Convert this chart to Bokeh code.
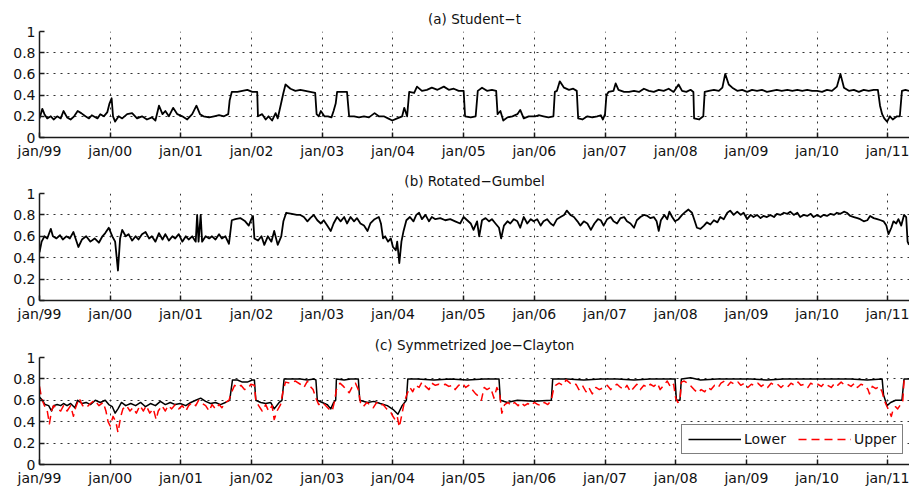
from bokeh.plotting import figure
from bokeh.layouts import column
from bokeh.models import Range1d, FixedTicker, Legend, LegendItem
from bokeh.embed import file_html
from bokeh.resources import INLINE

# Axis ticks and labels
years = list(range(1999, 2012))
year_labels = ["jan/%02d" % (y % 100) for y in years]
y_ticks = [0, 0.2, 0.4, 0.6, 0.8, 1]
y_labels = ["0", "0.2", "0.4", "0.6", "0.8", "1"]

# Time-varying dependence, (decimal year, value)
student_t = [
    (1999.00, 0.18), (1999.04, 0.27), (1999.07, 0.22), (1999.11, 0.18), (1999.16, 0.20),
    (1999.20, 0.17), (1999.25, 0.20), (1999.30, 0.18), (1999.34, 0.25), (1999.39, 0.19),
    (1999.44, 0.17), (1999.49, 0.20), (1999.54, 0.25), (1999.59, 0.23), (1999.65, 0.20),
    (1999.70, 0.18), (1999.74, 0.21), (1999.82, 0.18), (1999.86, 0.22), (1999.91, 0.20),
    (1999.96, 0.24), (1999.99, 0.32), (2000.02, 0.37), (2000.04, 0.20), (2000.07, 0.15),
    (2000.12, 0.20), (2000.17, 0.18), (2000.24, 0.22), (2000.31, 0.23), (2000.38, 0.18),
    (2000.45, 0.20), (2000.52, 0.17), (2000.59, 0.19), (2000.64, 0.16), (2000.69, 0.30),
    (2000.74, 0.22), (2000.78, 0.25), (2000.83, 0.20), (2000.89, 0.28), (2000.95, 0.22),
    (2001.02, 0.20), (2001.09, 0.17), (2001.16, 0.22), (2001.22, 0.30), (2001.27, 0.22),
    (2001.32, 0.20), (2001.40, 0.19), (2001.47, 0.20), (2001.54, 0.21), (2001.61, 0.20),
    (2001.67, 0.22), (2001.69, 0.35), (2001.72, 0.43), (2001.80, 0.43), (2001.87, 0.44),
    (2001.94, 0.45), (2002.01, 0.43), (2002.08, 0.43), (2002.09, 0.20), (2002.15, 0.22),
    (2002.20, 0.17), (2002.24, 0.20), (2002.29, 0.16), (2002.34, 0.23), (2002.37, 0.18),
    (2002.41, 0.30), (2002.45, 0.42), (2002.48, 0.50), (2002.55, 0.46), (2002.62, 0.44),
    (2002.69, 0.45), (2002.76, 0.44), (2002.83, 0.43), (2002.90, 0.42), (2002.92, 0.22),
    (2002.95, 0.20), (2002.98, 0.25), (2003.03, 0.20), (2003.08, 0.20), (2003.13, 0.19),
    (2003.16, 0.25), (2003.19, 0.32), (2003.21, 0.43), (2003.28, 0.43), (2003.35, 0.43),
    (2003.38, 0.20), (2003.45, 0.20), (2003.52, 0.19), (2003.59, 0.20), (2003.66, 0.19),
    (2003.74, 0.23), (2003.80, 0.20), (2003.87, 0.20), (2003.93, 0.18), (2003.99, 0.16),
    (2004.06, 0.18), (2004.13, 0.20), (2004.16, 0.28), (2004.20, 0.20), (2004.23, 0.43),
    (2004.30, 0.42), (2004.34, 0.48), (2004.41, 0.44), (2004.48, 0.45), (2004.55, 0.47),
    (2004.63, 0.45), (2004.72, 0.48), (2004.79, 0.45), (2004.86, 0.46), (2004.93, 0.44),
    (2005.00, 0.44), (2005.02, 0.20), (2005.10, 0.19), (2005.17, 0.20), (2005.20, 0.44),
    (2005.26, 0.47), (2005.33, 0.44), (2005.40, 0.45), (2005.46, 0.44), (2005.48, 0.22),
    (2005.52, 0.25), (2005.56, 0.16), (2005.62, 0.19), (2005.69, 0.20), (2005.76, 0.22),
    (2005.80, 0.26), (2005.85, 0.18), (2005.92, 0.20), (2006.01, 0.20), (2006.06, 0.21),
    (2006.13, 0.20), (2006.20, 0.19), (2006.27, 0.20), (2006.29, 0.43), (2006.32, 0.44),
    (2006.36, 0.53), (2006.42, 0.47), (2006.49, 0.45), (2006.55, 0.46), (2006.60, 0.44),
    (2006.62, 0.18), (2006.68, 0.17), (2006.75, 0.20), (2006.82, 0.19), (2006.89, 0.20),
    (2006.94, 0.21), (2006.97, 0.17), (2007.00, 0.22), (2007.02, 0.40), (2007.05, 0.43),
    (2007.12, 0.44), (2007.15, 0.51), (2007.19, 0.45), (2007.27, 0.43), (2007.34, 0.43),
    (2007.41, 0.44), (2007.48, 0.43), (2007.55, 0.46), (2007.62, 0.44), (2007.69, 0.43),
    (2007.76, 0.45), (2007.83, 0.44), (2007.90, 0.46), (2007.97, 0.43), (2008.04, 0.50),
    (2008.09, 0.44), (2008.15, 0.43), (2008.21, 0.45), (2008.25, 0.43), (2008.26, 0.18),
    (2008.33, 0.17), (2008.39, 0.20), (2008.41, 0.43), (2008.47, 0.44), (2008.54, 0.45),
    (2008.61, 0.44), (2008.66, 0.47), (2008.70, 0.60), (2008.75, 0.50), (2008.80, 0.47),
    (2008.87, 0.44), (2008.94, 0.45), (2009.01, 0.43), (2009.08, 0.45), (2009.15, 0.44),
    (2009.22, 0.45), (2009.29, 0.43), (2009.36, 0.44), (2009.43, 0.45), (2009.50, 0.44),
    (2009.58, 0.45), (2009.65, 0.44), (2009.72, 0.45), (2009.79, 0.44), (2009.86, 0.45),
    (2009.93, 0.44), (2010.00, 0.44), (2010.07, 0.43), (2010.14, 0.45), (2010.21, 0.44),
    (2010.28, 0.48), (2010.33, 0.60), (2010.38, 0.47), (2010.45, 0.44), (2010.52, 0.45),
    (2010.59, 0.43), (2010.66, 0.45), (2010.73, 0.44), (2010.80, 0.45), (2010.86, 0.45),
    (2010.89, 0.30), (2010.92, 0.22), (2010.95, 0.18), (2010.99, 0.15), (2011.03, 0.20),
    (2011.07, 0.17), (2011.13, 0.20), (2011.17, 0.20), (2011.20, 0.44), (2011.25, 0.45),
    (2011.30, 0.44),
]

rotated_gumbel = [
    (1999.00, 0.45), (1999.03, 0.55), (1999.07, 0.60), (1999.11, 0.58), (1999.16, 0.67),
    (1999.19, 0.60), (1999.24, 0.58), (1999.29, 0.61), (1999.33, 0.57), (1999.38, 0.60),
    (1999.43, 0.58), (1999.48, 0.64), (1999.51, 0.58), (1999.55, 0.50), (1999.60, 0.57),
    (1999.66, 0.60), (1999.72, 0.55), (1999.78, 0.58), (1999.84, 0.54), (1999.89, 0.60),
    (1999.93, 0.63), (1999.98, 0.68), (2000.03, 0.60), (2000.07, 0.55), (2000.11, 0.28),
    (2000.14, 0.58), (2000.17, 0.66), (2000.22, 0.60), (2000.26, 0.62), (2000.31, 0.56),
    (2000.36, 0.60), (2000.40, 0.57), (2000.45, 0.62), (2000.50, 0.64), (2000.55, 0.58),
    (2000.59, 0.60), (2000.64, 0.55), (2000.69, 0.63), (2000.74, 0.57), (2000.78, 0.62),
    (2000.83, 0.56), (2000.88, 0.60), (2000.92, 0.58), (2000.97, 0.62), (2001.02, 0.55),
    (2001.07, 0.60), (2001.11, 0.57), (2001.16, 0.60), (2001.21, 0.55), (2001.23, 0.80),
    (2001.25, 0.55), (2001.28, 0.80), (2001.30, 0.55), (2001.35, 0.60), (2001.40, 0.58),
    (2001.44, 0.60), (2001.49, 0.57), (2001.54, 0.62), (2001.58, 0.58), (2001.63, 0.60),
    (2001.68, 0.53), (2001.72, 0.75), (2001.77, 0.76), (2001.84, 0.77), (2001.91, 0.74),
    (2001.96, 0.70), (2001.99, 0.75), (2002.02, 0.79), (2002.04, 0.58), (2002.09, 0.56),
    (2002.14, 0.60), (2002.18, 0.52), (2002.23, 0.60), (2002.28, 0.55), (2002.32, 0.65),
    (2002.37, 0.52), (2002.42, 0.60), (2002.45, 0.74), (2002.49, 0.82), (2002.57, 0.81),
    (2002.64, 0.80), (2002.69, 0.80), (2002.74, 0.78), (2002.79, 0.74), (2002.83, 0.77),
    (2002.88, 0.80), (2002.93, 0.75), (2002.98, 0.72), (2003.02, 0.75), (2003.07, 0.70),
    (2003.12, 0.65), (2003.16, 0.72), (2003.21, 0.78), (2003.26, 0.74), (2003.31, 0.78),
    (2003.35, 0.72), (2003.40, 0.78), (2003.45, 0.74), (2003.49, 0.77), (2003.54, 0.72),
    (2003.59, 0.70), (2003.64, 0.65), (2003.68, 0.72), (2003.74, 0.76), (2003.80, 0.78),
    (2003.83, 0.72), (2003.86, 0.58), (2003.89, 0.60), (2003.93, 0.55), (2003.97, 0.58),
    (2004.00, 0.50), (2004.04, 0.47), (2004.06, 0.55), (2004.09, 0.35), (2004.12, 0.55),
    (2004.15, 0.65), (2004.19, 0.75), (2004.24, 0.78), (2004.29, 0.74), (2004.33, 0.80),
    (2004.37, 0.82), (2004.41, 0.76), (2004.46, 0.80), (2004.51, 0.74), (2004.55, 0.78),
    (2004.60, 0.76), (2004.67, 0.77), (2004.74, 0.75), (2004.81, 0.76), (2004.88, 0.74),
    (2004.95, 0.72), (2005.00, 0.78), (2005.05, 0.75), (2005.10, 0.72), (2005.14, 0.66),
    (2005.19, 0.74), (2005.22, 0.60), (2005.26, 0.75), (2005.31, 0.77), (2005.36, 0.74),
    (2005.40, 0.76), (2005.45, 0.72), (2005.50, 0.68), (2005.53, 0.58), (2005.57, 0.70),
    (2005.62, 0.74), (2005.66, 0.72), (2005.71, 0.76), (2005.76, 0.74), (2005.80, 0.68),
    (2005.85, 0.78), (2005.90, 0.72), (2005.95, 0.76), (2005.99, 0.74), (2006.04, 0.76),
    (2006.09, 0.70), (2006.13, 0.74), (2006.18, 0.76), (2006.23, 0.72), (2006.27, 0.70),
    (2006.32, 0.76), (2006.37, 0.78), (2006.42, 0.80), (2006.46, 0.84), (2006.51, 0.80),
    (2006.56, 0.78), (2006.61, 0.74), (2006.65, 0.70), (2006.70, 0.74), (2006.75, 0.72),
    (2006.80, 0.66), (2006.85, 0.72), (2006.90, 0.76), (2006.94, 0.75), (2006.98, 0.70),
    (2007.03, 0.76), (2007.08, 0.78), (2007.12, 0.74), (2007.17, 0.72), (2007.22, 0.77),
    (2007.27, 0.78), (2007.31, 0.74), (2007.36, 0.72), (2007.41, 0.68), (2007.45, 0.75),
    (2007.50, 0.78), (2007.55, 0.80), (2007.60, 0.79), (2007.64, 0.77), (2007.69, 0.78),
    (2007.73, 0.74), (2007.76, 0.65), (2007.79, 0.75), (2007.84, 0.80), (2007.88, 0.76),
    (2007.91, 0.83), (2007.95, 0.78), (2007.99, 0.74), (2008.04, 0.76), (2008.09, 0.80),
    (2008.14, 0.83), (2008.18, 0.85), (2008.23, 0.82), (2008.27, 0.74), (2008.30, 0.68),
    (2008.35, 0.67), (2008.40, 0.70), (2008.44, 0.73), (2008.49, 0.71), (2008.54, 0.75),
    (2008.59, 0.73), (2008.63, 0.78), (2008.68, 0.76), (2008.73, 0.82), (2008.77, 0.84),
    (2008.82, 0.80), (2008.87, 0.83), (2008.92, 0.80), (2008.96, 0.82), (2009.01, 0.76),
    (2009.06, 0.80), (2009.10, 0.78), (2009.15, 0.80), (2009.20, 0.77), (2009.24, 0.79),
    (2009.29, 0.78), (2009.34, 0.80), (2009.39, 0.78), (2009.43, 0.81), (2009.48, 0.80),
    (2009.53, 0.82), (2009.58, 0.81), (2009.62, 0.83), (2009.67, 0.80), (2009.72, 0.82),
    (2009.76, 0.78), (2009.81, 0.80), (2009.86, 0.79), (2009.91, 0.81), (2009.95, 0.78),
    (2010.00, 0.80), (2010.05, 0.78), (2010.09, 0.80), (2010.14, 0.79), (2010.19, 0.81),
    (2010.24, 0.80), (2010.28, 0.82), (2010.33, 0.81), (2010.38, 0.83), (2010.42, 0.82),
    (2010.47, 0.79), (2010.52, 0.78), (2010.57, 0.77), (2010.61, 0.76), (2010.66, 0.74),
    (2010.71, 0.75), (2010.75, 0.79), (2010.80, 0.77), (2010.85, 0.76), (2010.90, 0.75),
    (2010.94, 0.74), (2010.98, 0.70), (2011.01, 0.62), (2011.05, 0.68), (2011.08, 0.74),
    (2011.12, 0.72), (2011.15, 0.76), (2011.19, 0.70), (2011.23, 0.80), (2011.26, 0.78),
    (2011.28, 0.55), (2011.30, 0.52),
]

sjc_lower = [
    (1999.00, 0.63), (1999.04, 0.60), (1999.08, 0.56), (1999.13, 0.55), (1999.17, 0.50),
    (1999.20, 0.55), (1999.25, 0.56), (1999.30, 0.55), (1999.34, 0.57), (1999.39, 0.55),
    (1999.44, 0.57), (1999.50, 0.53), (1999.54, 0.60), (1999.60, 0.57), (1999.66, 0.58),
    (1999.72, 0.56), (1999.79, 0.60), (1999.86, 0.58), (1999.93, 0.60), (1999.98, 0.56),
    (2000.03, 0.54), (2000.07, 0.48), (2000.11, 0.52), (2000.16, 0.58), (2000.22, 0.55),
    (2000.29, 0.57), (2000.36, 0.55), (2000.43, 0.58), (2000.50, 0.54), (2000.57, 0.57),
    (2000.64, 0.55), (2000.71, 0.59), (2000.78, 0.56), (2000.85, 0.58), (2000.92, 0.56),
    (2000.99, 0.57), (2001.07, 0.55), (2001.14, 0.58), (2001.21, 0.60), (2001.28, 0.62),
    (2001.35, 0.59), (2001.42, 0.57), (2001.49, 0.58), (2001.56, 0.56), (2001.63, 0.58),
    (2001.69, 0.60), (2001.73, 0.79), (2001.80, 0.79), (2001.87, 0.77), (2001.94, 0.77),
    (2002.01, 0.79), (2002.04, 0.79), (2002.06, 0.60), (2002.13, 0.58), (2002.20, 0.57),
    (2002.27, 0.58), (2002.32, 0.52), (2002.39, 0.58), (2002.43, 0.60), (2002.46, 0.80),
    (2002.55, 0.80), (2002.69, 0.80), (2002.79, 0.79), (2002.88, 0.80), (2002.91, 0.79),
    (2002.93, 0.60), (2003.00, 0.58), (2003.07, 0.56), (2003.12, 0.52), (2003.16, 0.58),
    (2003.19, 0.60), (2003.20, 0.80), (2003.31, 0.79), (2003.40, 0.80), (2003.51, 0.80),
    (2003.53, 0.60), (2003.64, 0.58), (2003.73, 0.59), (2003.82, 0.57), (2003.92, 0.55),
    (2004.01, 0.51), (2004.07, 0.47), (2004.13, 0.55), (2004.19, 0.60), (2004.21, 0.80),
    (2004.34, 0.80), (2004.58, 0.79), (2004.81, 0.80), (2005.05, 0.79), (2005.29, 0.80),
    (2005.50, 0.80), (2005.52, 0.60), (2005.62, 0.58), (2005.76, 0.60), (2005.99, 0.59),
    (2006.24, 0.60), (2006.26, 0.80), (2006.46, 0.80), (2006.70, 0.79), (2006.94, 0.80),
    (2007.17, 0.80), (2007.41, 0.79), (2007.64, 0.80), (2007.88, 0.80), (2007.99, 0.80),
    (2008.01, 0.60), (2008.06, 0.60), (2008.08, 0.80), (2008.21, 0.81), (2008.35, 0.79),
    (2008.59, 0.80), (2008.82, 0.80), (2009.06, 0.80), (2009.29, 0.79), (2009.53, 0.80),
    (2009.76, 0.80), (2010.00, 0.80), (2010.24, 0.80), (2010.47, 0.80), (2010.71, 0.79),
    (2010.92, 0.80), (2010.94, 0.65), (2010.99, 0.55), (2011.04, 0.58), (2011.11, 0.60),
    (2011.20, 0.60), (2011.23, 0.80), (2011.30, 0.80),
]

sjc_upper = [
    (1999.00, 0.73), (1999.03, 0.62), (1999.07, 0.55), (1999.11, 0.50), (1999.14, 0.38),
    (1999.17, 0.50), (1999.20, 0.55), (1999.25, 0.52), (1999.30, 0.50), (1999.34, 0.55),
    (1999.39, 0.50), (1999.44, 0.55), (1999.48, 0.45), (1999.51, 0.53), (1999.56, 0.62),
    (1999.61, 0.55), (1999.66, 0.53), (1999.72, 0.57), (1999.78, 0.60), (1999.84, 0.55),
    (1999.90, 0.58), (1999.94, 0.50), (1999.97, 0.40), (2000.00, 0.36), (2000.04, 0.45),
    (2000.08, 0.40), (2000.11, 0.30), (2000.15, 0.45), (2000.18, 0.52), (2000.23, 0.55),
    (2000.28, 0.50), (2000.32, 0.53), (2000.37, 0.48), (2000.42, 0.55), (2000.47, 0.50),
    (2000.51, 0.55), (2000.56, 0.48), (2000.61, 0.52), (2000.65, 0.42), (2000.68, 0.50),
    (2000.73, 0.55), (2000.78, 0.50), (2000.82, 0.55), (2000.87, 0.52), (2000.92, 0.56),
    (2000.97, 0.52), (2001.02, 0.55), (2001.07, 0.50), (2001.11, 0.55), (2001.16, 0.58),
    (2001.21, 0.55), (2001.25, 0.60), (2001.30, 0.57), (2001.35, 0.55), (2001.40, 0.50),
    (2001.44, 0.56), (2001.49, 0.52), (2001.54, 0.56), (2001.58, 0.53), (2001.63, 0.58),
    (2001.68, 0.60), (2001.72, 0.68), (2001.76, 0.74), (2001.80, 0.72), (2001.85, 0.74),
    (2001.90, 0.70), (2001.95, 0.71), (2001.99, 0.75), (2002.04, 0.74), (2002.06, 0.60),
    (2002.10, 0.55), (2002.15, 0.50), (2002.20, 0.56), (2002.24, 0.50), (2002.29, 0.55),
    (2002.32, 0.42), (2002.36, 0.50), (2002.41, 0.56), (2002.45, 0.70), (2002.48, 0.77),
    (2002.55, 0.76), (2002.62, 0.78), (2002.69, 0.75), (2002.74, 0.72), (2002.79, 0.78),
    (2002.83, 0.73), (2002.87, 0.70), (2002.91, 0.62), (2002.95, 0.56), (2003.00, 0.58),
    (2003.05, 0.55), (2003.09, 0.52), (2003.14, 0.50), (2003.17, 0.58), (2003.20, 0.70),
    (2003.25, 0.76), (2003.30, 0.73), (2003.34, 0.70), (2003.38, 0.67), (2003.42, 0.72),
    (2003.47, 0.76), (2003.51, 0.70), (2003.54, 0.58), (2003.58, 0.54), (2003.63, 0.58),
    (2003.67, 0.56), (2003.72, 0.53), (2003.77, 0.58), (2003.81, 0.55), (2003.86, 0.56),
    (2003.91, 0.52), (2003.96, 0.50), (2003.99, 0.46), (2004.03, 0.42), (2004.06, 0.45),
    (2004.09, 0.35), (2004.13, 0.48), (2004.16, 0.58), (2004.20, 0.66), (2004.24, 0.72),
    (2004.28, 0.68), (2004.32, 0.74), (2004.37, 0.72), (2004.41, 0.77), (2004.46, 0.73),
    (2004.51, 0.70), (2004.55, 0.76), (2004.60, 0.74), (2004.65, 0.75), (2004.70, 0.74),
    (2004.74, 0.75), (2004.79, 0.73), (2004.84, 0.74), (2004.88, 0.70), (2004.93, 0.74),
    (2004.98, 0.76), (2005.03, 0.72), (2005.07, 0.74), (2005.12, 0.70), (2005.17, 0.66),
    (2005.21, 0.64), (2005.25, 0.60), (2005.29, 0.72), (2005.33, 0.70), (2005.38, 0.72),
    (2005.43, 0.62), (2005.47, 0.72), (2005.51, 0.66), (2005.54, 0.48), (2005.58, 0.56),
    (2005.63, 0.58), (2005.67, 0.55), (2005.72, 0.58), (2005.77, 0.55), (2005.81, 0.58),
    (2005.86, 0.55), (2005.91, 0.57), (2005.95, 0.55), (2006.00, 0.58), (2006.05, 0.56),
    (2006.10, 0.55), (2006.14, 0.58), (2006.19, 0.56), (2006.24, 0.60), (2006.27, 0.70),
    (2006.30, 0.74), (2006.35, 0.76), (2006.40, 0.74), (2006.45, 0.79), (2006.49, 0.77),
    (2006.54, 0.74), (2006.59, 0.75), (2006.63, 0.70), (2006.68, 0.74), (2006.73, 0.68),
    (2006.77, 0.72), (2006.82, 0.66), (2006.87, 0.72), (2006.92, 0.70), (2006.98, 0.72),
    (2007.03, 0.74), (2007.08, 0.70), (2007.12, 0.73), (2007.17, 0.75), (2007.22, 0.72),
    (2007.27, 0.70), (2007.31, 0.74), (2007.36, 0.68), (2007.41, 0.72), (2007.45, 0.75),
    (2007.50, 0.70), (2007.55, 0.74), (2007.60, 0.72), (2007.64, 0.75), (2007.69, 0.73),
    (2007.74, 0.76), (2007.78, 0.70), (2007.83, 0.74), (2007.88, 0.78), (2007.93, 0.72),
    (2007.97, 0.75), (2008.00, 0.62), (2008.03, 0.58), (2008.06, 0.60), (2008.08, 0.77),
    (2008.12, 0.78), (2008.17, 0.76), (2008.22, 0.73), (2008.26, 0.70), (2008.31, 0.67),
    (2008.36, 0.70), (2008.41, 0.68), (2008.45, 0.72), (2008.50, 0.70), (2008.55, 0.74),
    (2008.60, 0.72), (2008.64, 0.76), (2008.69, 0.78), (2008.74, 0.74), (2008.78, 0.77),
    (2008.83, 0.75), (2008.88, 0.77), (2008.92, 0.74), (2008.97, 0.76), (2009.02, 0.72),
    (2009.07, 0.75), (2009.11, 0.74), (2009.16, 0.76), (2009.21, 0.73), (2009.25, 0.75),
    (2009.30, 0.72), (2009.35, 0.76), (2009.40, 0.74), (2009.44, 0.75), (2009.49, 0.72),
    (2009.54, 0.75), (2009.59, 0.73), (2009.63, 0.76), (2009.68, 0.74), (2009.73, 0.77),
    (2009.77, 0.74), (2009.82, 0.75), (2009.87, 0.72), (2009.91, 0.76), (2009.96, 0.74),
    (2010.01, 0.75), (2010.06, 0.73), (2010.10, 0.76), (2010.15, 0.74), (2010.20, 0.72),
    (2010.25, 0.76), (2010.29, 0.74), (2010.34, 0.77), (2010.39, 0.74), (2010.43, 0.75),
    (2010.48, 0.73), (2010.53, 0.76), (2010.57, 0.72), (2010.62, 0.75), (2010.67, 0.74),
    (2010.72, 0.70), (2010.74, 0.66), (2010.78, 0.73), (2010.83, 0.71), (2010.88, 0.73),
    (2010.92, 0.68), (2010.95, 0.60), (2010.99, 0.54), (2011.02, 0.50), (2011.05, 0.45),
    (2011.07, 0.50), (2011.11, 0.54), (2011.14, 0.52), (2011.18, 0.56), (2011.21, 0.58),
    (2011.23, 0.78), (2011.27, 0.77), (2011.30, 0.78),
]

FONT = "DejaVu Sans"
INK = "#1a1a1a"


def make_panel(title, height, top, bottom):
    p = figure(
        title=title, width=909, height=height,
        x_range=Range1d(1999, 2011.307), y_range=Range1d(0, 1),
        output_backend="svg", toolbar_location=None,
        min_border_left=39, min_border_right=0,
        min_border_top=top, min_border_bottom=bottom,
    )
    p.title.align = "center"
    p.title.text_font = FONT
    p.title.text_font_size = "13.5px"
    p.title.text_font_style = "normal"
    p.title.text_color = "#111111"
    p.outline_line_color = None
    p.background_fill_color = "white"
    p.border_fill_color = "white"

    p.xaxis.ticker = FixedTicker(ticks=years)
    p.xaxis.major_label_overrides = dict(zip(years, year_labels))
    p.yaxis.ticker = FixedTicker(ticks=y_ticks)
    p.yaxis.major_label_overrides = dict(zip(y_ticks, y_labels))

    for ax in (p.xaxis[0], p.yaxis[0]):
        ax.axis_line_color = INK
        ax.axis_line_width = 1.5
        ax.major_tick_line_color = INK
        ax.major_tick_line_width = 1.5
        ax.major_tick_in = 5
        ax.major_tick_out = 0
        ax.minor_tick_line_color = None
        ax.major_label_text_font = FONT
        ax.major_label_text_font_size = "14px"
        ax.major_label_text_color = "#111111"
    p.xaxis.major_label_standoff = 5
    p.yaxis.major_label_standoff = 4

    # dotted grid at every tick
    p.grid.grid_line_color = "#333333"
    p.grid.grid_line_dash = "2 5"
    p.grid.grid_line_width = 1
    return p


def unzip(series):
    return [t for t, _ in series], [v for _, v in series]


pa = make_panel("(a) Student\u2212t", 162, 31, 25)
ta, va = unzip(student_t)
pa.line(ta, va, line_color="black", line_width=1.8, line_join="round")

pb = make_panel("(b) Rotated\u2212Gumbel", 163, 31, 25)
tb, vb = unzip(rotated_gumbel)
pb.line(tb, vb, line_color="black", line_width=1.8, line_join="round")

pc = make_panel("(c) Symmetrized Joe\u2212Clayton", 163, 32, 24)
tl, vl = unzip(sjc_lower)
tu, vu = unzip(sjc_upper)
r_lower = pc.line(tl, vl, line_color="black", line_width=1.5, line_join="round")
r_upper = pc.line(tu, vu, line_color="red", line_width=1.5, line_dash="8 5",
                  line_join="round")

legend = Legend(
    items=[LegendItem(label="Lower", renderers=[r_lower]),
           LegendItem(label="Upper", renderers=[r_upper])],
    orientation="horizontal", location=(642, 10),
    label_text_font=FONT, label_text_font_size="14px", label_text_color="#111111",
    glyph_width=53, glyph_height=14, label_height=14, label_standoff=3,
    spacing=12, padding=6, margin=0,
    border_line_color="black", border_line_width=1.5,
    background_fill_color="white", background_fill_alpha=1.0,
)
pc.add_layout(legend, "center")

layout = column(pa, pb, pc, spacing=0)

with open("out.html", "w") as f:
    f.write(file_html(layout, INLINE))
